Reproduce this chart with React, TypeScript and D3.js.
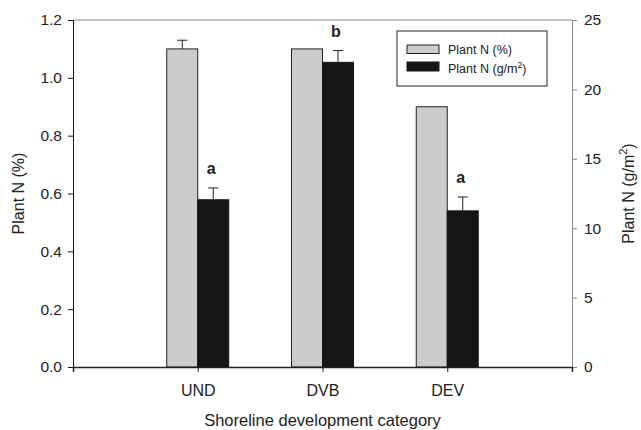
import React, { useEffect, useRef } from "react";
import * as d3 from "d3";

const categories = ["UND", "DVB", "DEV"];
// Plant N (%) on the left axis
const percentValues = [1.1, 1.1, 0.9];
const percentErrors = [0.03, 0, 0];
// Plant N (g/m2) on the right axis
const massValues = [12.05, 21.95, 11.25];
const massErrors = [0.85, 0.85, 1.0];
const letters = ["a", "b", "a"];
const leftTicks = [0, 0.2, 0.4, 0.6, 0.8, 1.0, 1.2];
const rightTicks = [0, 5, 10, 15, 20, 25];

const App = () => {
  const svgRef = useRef<SVGSVGElement>(null);

  useEffect(() => {
    const width = 641;
    const height = 430;
    const m = { left: 73, right: 69, top: 20, bottom: 63 };
    const font = "'Liberation Sans', Arial, Helvetica, sans-serif";

    const svg = d3.select(svgRef.current);
    svg.selectAll("*").remove();
    svg
      .attr("width", width)
      .attr("height", height)
      .style("position", "absolute")
      .style("left", "0px")
      .style("top", "0px")
      .style("background", "white");

    const x = d3.scaleLinear().domain([0, 4]).range([m.left, width - m.right]);
    const yL = d3.scaleLinear().domain([0, 1.2]).range([height - m.bottom, m.top]);
    const yR = d3.scaleLinear().domain([0, 25]).range([height - m.bottom, m.top]);
    const barW = 31;

    // top frame line
    svg
      .append("line")
      .attr("x1", m.left)
      .attr("x2", width - m.right)
      .attr("y1", m.top)
      .attr("y2", m.top)
      .attr("stroke", "#888");

    const idx = categories.map((_, i) => i);

    // gray bars
    svg
      .selectAll(".gbar")
      .data(idx)
      .enter()
      .append("rect")
      .attr("x", (i) => x(i + 1) - barW)
      .attr("y", (i) => yL(percentValues[i]))
      .attr("width", barW)
      .attr("height", (i) => yL(0) - yL(percentValues[i]))
      .attr("fill", "#cccccc")
      .attr("stroke", "#222")
      .attr("stroke-width", 1);

    // black bars
    svg
      .selectAll(".bbar")
      .data(idx)
      .enter()
      .append("rect")
      .attr("x", (i) => x(i + 1))
      .attr("y", (i) => yR(massValues[i]))
      .attr("width", barW)
      .attr("height", (i) => yR(0) - yR(massValues[i]))
      .attr("fill", "#161616")
      .attr("stroke", "#161616");

    // error bars
    const errs = [
      ...idx.filter((i) => percentErrors[i] > 0).map((i) => ({
        cx: x(i + 1) - barW / 2,
        y0: yL(percentValues[i]),
        y1: yL(percentValues[i] + percentErrors[i]),
      })),
      ...idx.map((i) => ({
        cx: x(i + 1) + barW / 2,
        y0: yR(massValues[i]),
        y1: yR(massValues[i] + massErrors[i]),
      })),
    ];
    const eg = svg.append("g").attr("stroke", "#222").attr("stroke-width", 1);
    errs.forEach((e) => {
      eg.append("line").attr("x1", e.cx).attr("x2", e.cx).attr("y1", e.y0).attr("y2", e.y1);
      eg.append("line")
        .attr("x1", e.cx - 5)
        .attr("x2", e.cx + 5)
        .attr("y1", e.y1)
        .attr("y2", e.y1);
    });

    // significance letters
    svg
      .selectAll(".letter")
      .data(idx)
      .enter()
      .append("text")
      .attr("x", (i) => x(i + 1) + barW / 2 - 2)
      .attr("y", (i) => yR(massValues[i] + massErrors[i]) - 14)
      .attr("text-anchor", "middle")
      .attr("font-family", font)
      .attr("font-weight", "bold")
      .attr("font-size", 16)
      .attr("fill", "#222")
      .text((i) => letters[i]);

    // left axis
    const gL = svg
      .append("g")
      .attr("transform", `translate(${m.left},0)`)
      .call(
        d3
          .axisLeft(yL)
          .tickValues(leftTicks)
          .tickSize(5)
          .tickPadding(6)
          .tickFormat(d3.format(".1f"))
      );
    gL.select(".domain").attr("stroke", "#111");
    gL.selectAll(".tick line").attr("stroke", "#111");
    gL.selectAll("text").attr("font-family", font).attr("font-size", 15.5).attr("fill", "#222");

    // right axis
    const gR = svg
      .append("g")
      .attr("transform", `translate(${width - m.right},0)`)
      .call(d3.axisRight(yR).tickValues(rightTicks).tickSize(5).tickPadding(7));
    gR.select(".domain").attr("stroke", "#888");
    gR.selectAll(".tick line").attr("stroke", "#888");
    gR.selectAll("text").attr("font-family", font).attr("font-size", 15.5).attr("fill", "#222");

    // bottom axis
    const gB = svg
      .append("g")
      .attr("transform", `translate(0,${height - m.bottom})`)
      .call(
        d3
          .axisBottom(x)
          .tickValues([1, 2, 3])
          .tickSize(5)
          .tickPadding(13)
          .tickFormat((d) => categories[(d as number) - 1])
      );
    gB.select(".domain").attr("stroke", "#222").attr("stroke-width", 1.5);
    gB.selectAll(".tick line").attr("stroke", "#222");
    gB.selectAll("text").attr("font-family", font).attr("font-size", 16).attr("fill", "#222");

    // axis titles
    svg
      .append("text")
      .attr("transform", `translate(24,${(m.top + height - m.bottom) / 2}) rotate(-90)`)
      .attr("text-anchor", "middle")
      .attr("font-family", font)
      .attr("font-size", 16)
      .attr("fill", "#222")
      .text("Plant N (%)");

    const rt = svg
      .append("text")
      .attr("transform", `translate(634,${(m.top + height - m.bottom) / 2}) rotate(-90)`)
      .attr("text-anchor", "middle")
      .attr("font-family", font)
      .attr("font-size", 16)
      .attr("fill", "#222");
    rt.append("tspan").text("Plant N (g/m");
    rt.append("tspan").attr("font-size", 11).attr("dy", -7).text("2");
    rt.append("tspan").attr("dy", 7).text(")");

    svg
      .append("text")
      .attr("x", (m.left + width - m.right) / 2)
      .attr("y", 426)
      .attr("text-anchor", "middle")
      .attr("font-family", font)
      .attr("font-size", 16.5)
      .attr("fill", "#222")
      .text("Shoreline development category");

    // legend
    const lg = svg.append("g").attr("transform", "translate(397,31)");
    lg.append("rect")
      .attr("width", 150)
      .attr("height", 55)
      .attr("fill", "white")
      .attr("stroke", "#222");
    lg.append("rect")
      .attr("x", 10)
      .attr("y", 14)
      .attr("width", 32)
      .attr("height", 8.5)
      .attr("fill", "#cccccc")
      .attr("stroke", "#222");
    lg.append("rect")
      .attr("x", 10)
      .attr("y", 31)
      .attr("width", 32)
      .attr("height", 9)
      .attr("fill", "#161616")
      .attr("stroke", "#161616");
    lg.append("text")
      .attr("x", 51)
      .attr("y", 22.5)
      .attr("font-family", font)
      .attr("font-size", 12.5)
      .attr("fill", "#222")
      .text("Plant N (%)");
    const lt = lg
      .append("text")
      .attr("x", 51)
      .attr("y", 41.5)
      .attr("font-family", font)
      .attr("font-size", 12.5)
      .attr("fill", "#222");
    lt.append("tspan").text("Plant N (g/m");
    lt.append("tspan").attr("font-size", 8.5).attr("dy", -5).text("2");
    lt.append("tspan").attr("dy", 5).text(")");
  }, []);

  return <svg ref={svgRef}></svg>;
};

export default App;
